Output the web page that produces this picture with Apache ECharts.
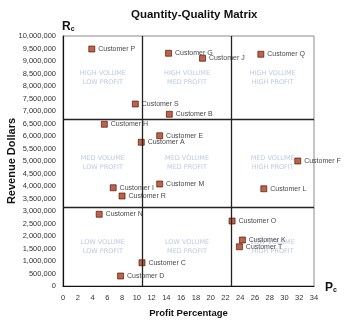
<!DOCTYPE html>
<html>
<head>
<meta charset="utf-8">
<script src="https://cdn.jsdelivr.net/npm/echarts@6/dist/echarts.min.js"></script>
<style>
  html, body { margin: 0; padding: 0; background: #fff; }
  #chart { width: 360px; height: 322px; }
</style>
</head>
<body>
<div id="chart"></div>
<script>
// Customers plotted by profit percentage (x) and revenue dollars (y)
var customers = ['P', 'G', 'J', 'Q', 'S', 'B', 'H', 'E', 'A', 'F',
                 'L', 'I', 'M', 'R', 'N', 'O', 'K', 'T', 'C', 'D'];
var profitPct = [3.9, 14.3, 18.9, 26.8, 9.8, 14.4, 5.6, 13.1, 10.6, 31.8,
                 27.2, 6.8, 13.1, 8.0, 4.9, 22.9, 24.3, 23.9, 10.7, 7.8];
var revenue = [9480000, 9310000, 9110000, 9270000, 7280000, 6870000, 6470000, 6010000, 5750000, 5000000,
               3890000, 3930000, 4080000, 3600000, 2870000, 2600000, 1840000, 1570000, 930000, 400000];

// Cut-off values that split the matrix into nine zones
var profitCuts = [10.8, 22.8];
var revenueCuts = [3150000, 6670000];

// Axis ranges and tick steps
var xMin = 0, xMax = 34, xStep = 2;
var yMin = 0, yMax = 10000000, yStep = 500000;

// Zone captions, rows top to bottom, columns left to right
var volumeNames = ['HIGH VOLUME', 'MED VOLUME', 'LOW VOLUME'];
var profitNames = ['LOW PROFIT', 'MED PROFIT', 'HIGH PROFIT'];

function fmtThousands(v) {
  return String(Math.round(v)).replace(/\B(?=(\d{3})+(?!\d))/g, ',');
}

var pointData = customers.map(function (c, i) {
  return { value: [profitPct[i], revenue[i]], name: 'Customer ' + c };
});

// Zone captions sit at the middle of each zone
var xEdges = [xMin].concat(profitCuts, [xMax]);
var yEdges = [yMax].concat(revenueCuts.slice().reverse(), [yMin]);
var zoneData = [];
for (var r = 0; r < 3; r++) {
  for (var c = 0; c < 3; c++) {
    zoneData.push({
      value: [(xEdges[c] + xEdges[c + 1]) / 2, (yEdges[r] + yEdges[r + 1]) / 2],
      name: volumeNames[r] + '\n' + profitNames[c]
    });
  }
}

var HEAD_FONT = "'Liberation Sans Narrow', 'Liberation Sans', sans-serif";
var subText = {
  rich: {
    m: { fontFamily: HEAD_FONT, fontWeight: 'bold', fontSize: 12, color: '#111' },
    s: { fontFamily: HEAD_FONT, fontWeight: 'bold', fontSize: 7, color: '#111', verticalAlign: 'bottom', padding: [6, 0, 0, 0] }
  }
};

var chart = echarts.init(document.getElementById('chart'), null, { renderer: 'canvas' });

var option = {
  backgroundColor: '#ffffff',
  animation: false,
  title: [
    {
      text: 'Quantity-Quality Matrix',
      left: 126, top: 4,
      textStyle: { fontFamily: HEAD_FONT, fontWeight: 'bold', fontSize: 11.5, color: '#111' }
    },
    { text: '{m|R}{s|c}', left: 57, top: 15, textStyle: subText },
    { text: '{m|P}{s|c}', left: 320, top: 276, textStyle: subText }
  ],
  grid: {
    left: 63, right: 46, top: 36, bottom: 36,
    show: true, borderColor: '#8a8a8a', borderWidth: 1,
    containLabel: false,
    outerBoundsMode: 'none'
  },
  xAxis: {
    type: 'value', min: xMin, max: xMax, interval: xStep,
    name: 'Profit Percentage', nameLocation: 'middle', nameGap: 22,
    nameMoveOverlap: false,
    nameTextStyle: { fontFamily: HEAD_FONT, fontWeight: 'bold', fontSize: 9.5, color: '#111' },
    axisLine: { show: true, lineStyle: { color: '#111', width: 1.2 } },
    axisTick: { show: false },
    splitLine: { show: false },
    axisLabel: { fontFamily: 'Liberation Sans', fontSize: 7.5, color: '#333', margin: 8 }
  },
  yAxis: {
    type: 'value', min: yMin, max: yMax, interval: yStep,
    name: 'Revenue Dollars', nameLocation: 'middle', nameGap: 46, nameRotate: 90,
    nameMoveOverlap: false,
    nameTextStyle: { fontFamily: HEAD_FONT, fontWeight: 'bold', fontSize: 11, color: '#111' },
    axisLine: { show: true, lineStyle: { color: '#111', width: 1.2 } },
    axisTick: { show: false },
    splitLine: { show: false },
    axisLabel: {
      fontFamily: 'Liberation Sans', fontSize: 7.5, color: '#333', margin: 7,
      formatter: fmtThousands
    }
  },
  series: [
    {
      // zone captions and the cut-off lines
      type: 'scatter',
      symbolSize: 0,
      silent: true,
      data: zoneData,
      label: {
        show: true, position: 'inside',
        formatter: function (p) { return p.name; },
        fontFamily: 'DejaVu Sans', fontSize: 6.5, lineHeight: 9,
        color: '#aebadb', align: 'center'
      },
      markLine: {
        silent: true, symbol: 'none',
        label: { show: false },
        lineStyle: { color: '#222', width: 1.3, type: 'solid' },
        data: profitCuts.map(function (v) { return { xAxis: v }; })
          .concat(revenueCuts.map(function (v) { return { yAxis: v }; }))
      },
      z: 1
    },
    {
      type: 'scatter',
      symbol: 'rect',
      symbolSize: 6,
      data: pointData,
      itemStyle: { color: '#b23a16', borderColor: '#3a1206', borderWidth: 0.8 },
      label: {
        show: true, position: 'right', distance: 3,
        formatter: function (p) { return p.name; },
        fontFamily: 'Liberation Sans', fontSize: 7, color: '#111'
      },
      z: 3
    }
  ]
};

chart.setOption(option);
</script>
</body>
</html>
